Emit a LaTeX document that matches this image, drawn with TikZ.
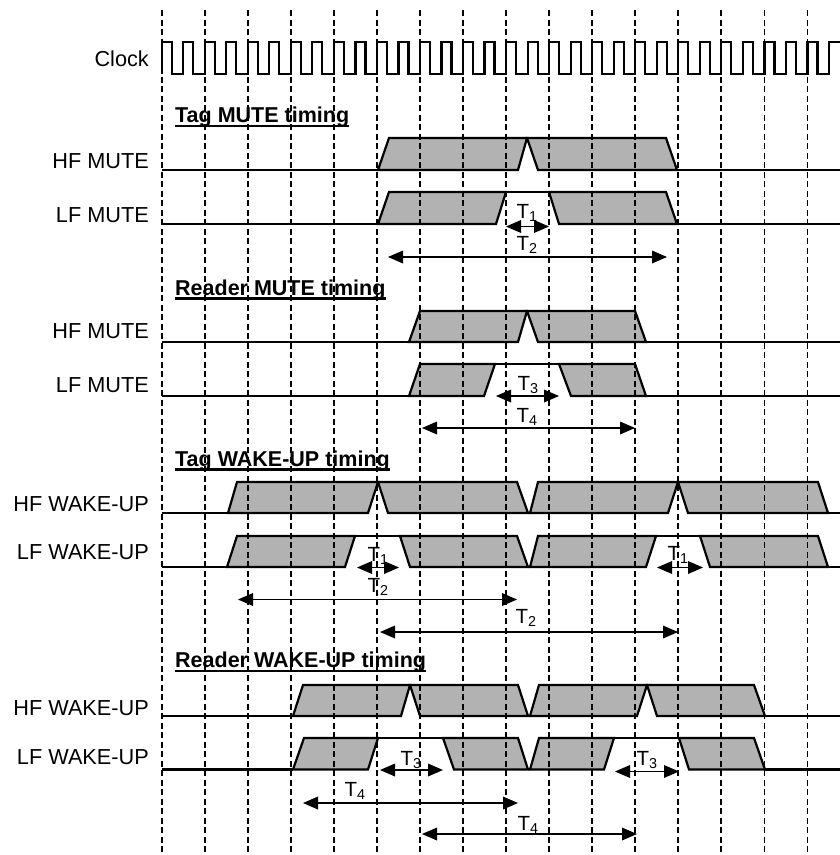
\documentclass[tikz,border=0pt]{standalone}
\usepackage{fontspec}
\setmainfont{Liberation Sans}
\usetikzlibrary{calc}
\tikzset{
  sigline/.style={line width=2.2pt, line join=miter},
  pulsebox/.style={sigline, fill=black!30},
  gridline/.style={line width=1.8pt, dash pattern=on 6pt off 3.5pt},
  rowlabel/.style={anchor=base east, inner sep=0pt, font=\fontsize{21.7}{26}\selectfont},
  heading/.style={anchor=base west, inner sep=0pt, font=\fontsize{21.5}{26}\selectfont\bfseries},
  tlabel/.style={anchor=base, inner sep=0pt, font=\fontsize{20.5}{24}\selectfont},
  dimline/.style={line width=1.8pt},
  tiphead/.style={fill=black, draw=none},
}
% #1 base y, #2 top y, #3 bottom-left x, #4 top-left x, #5 top-right x, #6 bottom-right x
\newcommand\pulseshape[6]{\filldraw[pulsebox] (#3,#1) -- (#4,#2) -- (#5,#2) -- (#6,#1) -- cycle;}
% double-headed dimension arrow: #1 left x, #2 right x, #3 y
\newcommand\dimarr[3]{%
  \draw[dimline] ({#1+10},#3) -- ({#2-10},#3);
  \fill[tiphead] (#1,#3) -- ({#1+15},{#3-6.5}) -- ({#1+15},{#3+6.5}) -- cycle;
  \fill[tiphead] (#2,#3) -- ({#2-15},{#3-6.5}) -- ({#2-15},{#3+6.5}) -- cycle;}
\begin{document}
\begin{tikzpicture}[x=1pt,y=-1pt]
\useasboundingbox (0,0) rectangle (840,855);

% ---------- Clock ----------
\node[rowlabel] (clk) at (149,66.5) {Clock};
\draw[sigline] (161.7,74)
  \foreach \k in {0,...,30} {
    -- ({161.7+21.525*\k},74) -- ({161.7+21.525*\k},41.7)
    -- ({171.7+21.525*\k},41.7) -- ({171.7+21.525*\k},74)
  } -- (829,74) -- (829,41.7) -- (840,41.7);

% ---------- Tag MUTE timing ----------
\node[heading] (h1) at (175,122.7) {Tag MUTE timing};
\draw[sigline] ($(h1.base west)+(0,3.5)$) -- ($(h1.base east)+(0,3.5)$);
\node[rowlabel] (l1) at (149,168) {HF MUTE};
\node[rowlabel] (l2) at (149,222.5) {LF MUTE};
\draw[sigline] (162,170) -- (378,170) (677,170) -- (840,170);
\pulseshape{170}{138}{378}{389}{527}{518}
\pulseshape{170}{138}{538}{527}{666}{677}
\draw[sigline] (162,224) -- (378,224) (677,224) -- (840,224);
\pulseshape{224}{192}{378}{389}{506}{496}
\draw[sigline] (506,192) -- (549,192);
\pulseshape{224}{192}{559}{549}{666}{677}
\node[tlabel] (t1a) at (527,218) {T\textsubscript{1}};
\dimarr{506}{549}{226.5}
\node[tlabel] (t2a) at (527,250) {T\textsubscript{2}};
\dimarr{388}{667}{257}

% ---------- Reader MUTE timing ----------
\node[heading] (h2) at (175,295) {Reader MUTE timing};
\draw[sigline] ($(h2.base west)+(0,3.5)$) -- ($(h2.base east)+(0,3.5)$);
\node[rowlabel] (l3) at (149,338) {HF MUTE};
\node[rowlabel] (l4) at (149,392.5) {LF MUTE};
\draw[sigline] (162,342) -- (409,342) (646,342) -- (840,342);
\pulseshape{342}{311}{409}{420}{527}{518}
\pulseshape{342}{311}{538}{527}{635}{646}
\draw[sigline] (162,396) -- (409,396) (646,396) -- (840,396);
\pulseshape{396}{364}{409}{420}{495}{484}
\draw[sigline] (495,364) -- (559,364);
\pulseshape{396}{364}{571}{559}{635}{646}
\node[tlabel] (t3a) at (528,390.5) {T\textsubscript{3}};
\dimarr{496}{559}{396}
\node[tlabel] (t4a) at (527,422.5) {T\textsubscript{4}};
\dimarr{422}{635}{428}

% ---------- Tag WAKE-UP timing ----------
\node[heading] (h3) at (175,466) {Tag WAKE-UP timing};
\draw[sigline] ($(h3.base west)+(0,3.5)$) -- ($(h3.base east)+(0,3.5)$);
\node[rowlabel] (l5) at (149,511.5) {HF WAKE-UP};
\node[rowlabel] (l6) at (149,559) {LF WAKE-UP};
\draw[sigline] (162,513) -- (228,513) (828,513) -- (840,513);
\pulseshape{513}{482}{228}{237}{378}{368}
\pulseshape{513}{482}{388}{378}{517}{528}
\pulseshape{513}{482}{530}{538}{678}{668}
\pulseshape{513}{482}{688}{678}{818}{828}
\draw[sigline] (162,567) -- (227,567) (828,567) -- (840,567);
\pulseshape{567}{536}{227}{237}{355}{345}
\draw[sigline] (355,536) -- (400,536);
\pulseshape{567}{536}{410}{400}{517}{528}
\pulseshape{567}{536}{530}{538}{656}{646}
\draw[sigline] (656,536) -- (700,536);
\pulseshape{567}{536}{710}{700}{818}{828}
\node[tlabel] (t1b) at (378,561) {T\textsubscript{1}};
\dimarr{357}{399}{567.5}
\node[tlabel] (t1c) at (678,560) {T\textsubscript{1}};
\dimarr{657}{703}{567.5}
\node[tlabel] (t2b) at (378,592) {T\textsubscript{2}};
\dimarr{238}{517}{599.5}
\node[tlabel] (t2c) at (526,623.5) {T\textsubscript{2}};
\dimarr{380}{678}{632}

% ---------- Reader WAKE-UP timing ----------
\node[heading] (h4) at (175,667.5) {Reader WAKE-UP timing};
\draw[sigline] ($(h4.base west)+(0,3.5)$) -- ($(h4.base east)+(0,3.5)$);
\node[rowlabel] (l7) at (149,715) {HF WAKE-UP};
\node[rowlabel] (l8) at (149,764) {LF WAKE-UP};
\draw[sigline] (162,716) -- (293,716) (765,716) -- (840,716);
\pulseshape{716}{685}{293}{303}{410}{401}
\pulseshape{716}{685}{420}{410}{518}{528}
\pulseshape{716}{685}{530}{539}{647}{637}
\pulseshape{716}{685}{657}{647}{754}{765}
\draw[sigline] (162,769.5) -- (293,769.5) (765,769.5) -- (840,769.5);
\pulseshape{769.5}{738}{293}{304}{378}{368}
\draw[sigline] (378,738) -- (443,738);
\pulseshape{769.5}{738}{454}{443}{518}{528}
\pulseshape{769.5}{738}{530}{539}{614}{604}
\draw[sigline] (614,738) -- (679,738);
\pulseshape{769.5}{738}{689}{679}{754}{765}
\node[tlabel] (t3b) at (411,765) {T\textsubscript{3}};
\dimarr{380}{443}{770}
\node[tlabel] (t3c) at (647,765) {T\textsubscript{3}};
\dimarr{615}{679}{771.5}
\node[tlabel] (t4b) at (355,796.5) {T\textsubscript{4}};
\dimarr{303}{518}{803}
\node[tlabel] (t4c) at (528,830) {T\textsubscript{4}};
\dimarr{422}{637}{834}

% ---------- dashed time grid ----------
\foreach \k in {0,...,15} {
  \draw[gridline] ({161.7+43.05*\k},10) -- ({161.7+43.05*\k},855);
}
\end{tikzpicture}
\end{document}
